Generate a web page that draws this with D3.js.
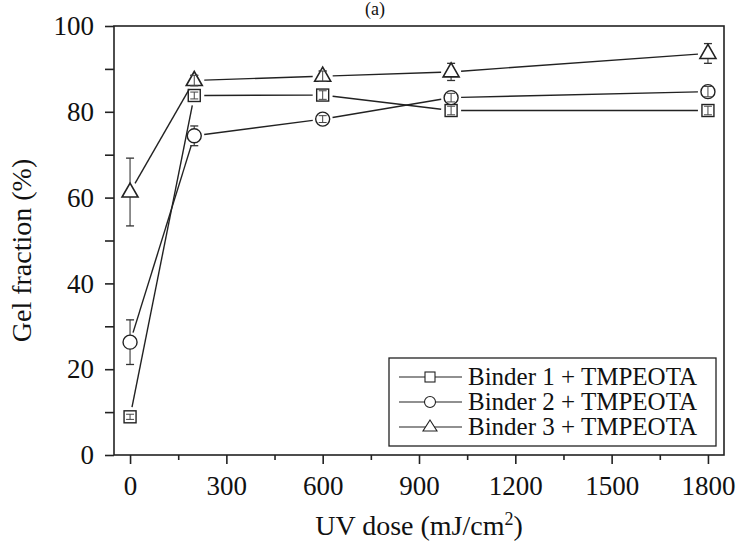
<!DOCTYPE html>
<html>
<head>
<meta charset="utf-8">
<script src="https://cdn.jsdelivr.net/npm/d3@7"></script>
<style>
  body { margin: 0; background: #fff; }
  svg { display: block; }
  svg text { font-family: "Liberation Serif", "Times New Roman", serif; }
</style>
</head>
<body>
<script>
var width = 739;
var height = 548;

// data
var doses = [0, 200, 600, 1000, 1800];
var seriesNames = ["Binder 1 + TMPEOTA", "Binder 2 + TMPEOTA", "Binder 3 + TMPEOTA"];
var binder1 = [8.9, 83.8, 83.9, 80.3, 80.3];
var binder1Err = [0.6, 0.8, 1.0, 1.0, 1.0];
var binder2 = [26.3, 74.4, 78.3, 83.3, 84.7];
var binder2Err = [5.2, 2.3, 0.8, 1.0, 1.2];
var binder3 = [61.3, 87.3, 88.3, 89.3, 93.6];
var binder3Err = [7.9, 1.2, 1.2, 2.0, 2.3];
var symbols = ["square", "circle", "triangle"];

var xTicks = [0, 300, 600, 900, 1200, 1500, 1800];
var xMinor = [150, 450, 750, 1050, 1350, 1650];
var yTicks = [0, 20, 40, 60, 80, 100];
var yMinor = [10, 30, 50, 70, 90];

var series = [
  { name: seriesNames[0], values: binder1, err: binder1Err, sym: symbols[0] },
  { name: seriesNames[1], values: binder2, err: binder2Err, sym: symbols[1] },
  { name: seriesNames[2], values: binder3, err: binder3Err, sym: symbols[2] }
];

var plotLeft = 114, plotRight = 724, plotTop = 26, plotBottom = 455;
var serif = "'Liberation Serif', 'Times New Roman', serif";

var svg = d3.select("body")
  .append("svg")
  .attr("width", width)
  .attr("height", height);

var x = d3.scaleLinear().domain([-50, 1850]).range([plotLeft, plotRight]);
var y = d3.scaleLinear().domain([0, 100]).range([plotBottom, plotTop]);

// title
svg.append("text")
  .attr("x", 375).attr("y", 15)
  .attr("text-anchor", "middle")
  .style("font-family", serif)
  .attr("font-size", 18)
  .attr("fill", "#111")
  .text("(a)");

// frame
svg.append("rect")
  .attr("x", plotLeft).attr("y", plotTop)
  .attr("width", plotRight - plotLeft).attr("height", plotBottom - plotTop)
  .attr("fill", "none").attr("stroke", "#222").attr("stroke-width", 1.6);

// axes
svg.append("g")
  .attr("transform", "translate(0," + plotBottom + ")")
  .call(d3.axisBottom(x).tickValues(xTicks).tickSize(9).tickPadding(12).tickFormat(d3.format("d")));
svg.append("g")
  .attr("transform", "translate(0," + plotBottom + ")")
  .call(d3.axisBottom(x).tickValues(xMinor).tickSize(5).tickFormat(""));
svg.append("g")
  .attr("transform", "translate(" + plotLeft + ",0)")
  .call(d3.axisLeft(y).tickValues(yTicks).tickSize(9).tickPadding(11).tickFormat(d3.format("d")));
svg.append("g")
  .attr("transform", "translate(" + plotLeft + ",0)")
  .call(d3.axisLeft(y).tickValues(yMinor).tickSize(9).tickFormat(""));

svg.selectAll(".domain").remove();
svg.selectAll(".tick line").attr("stroke", "#222").attr("stroke-width", 1.6);
svg.selectAll(".tick text")
  .style("font-family", serif)
  .style("font-size", "27px")
  .attr("fill", "#111");

// axis titles
svg.append("text")
  .attr("transform", "translate(31," + ((plotTop + plotBottom) / 2 + 10) + ") rotate(-90)")
  .attr("text-anchor", "middle")
  .style("font-family", serif)
  .style("font-size", "28px")
  .attr("fill", "#111")
  .text("Gel fraction (%)");

var xl = svg.append("text")
  .attr("x", (plotLeft + plotRight) / 2)
  .attr("y", 535)
  .attr("text-anchor", "middle")
  .style("font-family", serif)
  .style("font-size", "28px")
  .attr("fill", "#111");
xl.append("tspan").text("UV dose (mJ/cm");
xl.append("tspan").style("font-size", "18px").attr("dy", -10).text("2");
xl.append("tspan").attr("dy", 10).text(")");

var markerR = 7;

function drawMarker(g, sym, cx, cy) {
  if (sym == "square") {
    g.append("rect")
      .attr("x", cx - 6).attr("y", cy - 6)
      .attr("width", 12).attr("height", 12)
      .attr("fill", "white").attr("stroke", "#222").attr("stroke-width", 1.4);
  } else if (sym == "circle") {
    g.append("circle")
      .attr("cx", cx).attr("cy", cy).attr("r", 7)
      .attr("fill", "white").attr("stroke", "#222").attr("stroke-width", 1.4);
  } else {
    g.append("path")
      .attr("d", "M" + cx + "," + (cy - 9) + "L" + (cx + 8) + "," + (cy + 5) + "L" + (cx - 8) + "," + (cy + 5) + "Z")
      .attr("fill", "white").attr("stroke", "#222").attr("stroke-width", 1.6);
  }
}

var plot = svg.append("g");

series.forEach(function (s) {
  var g = plot.append("g");
  // connecting lines, with a gap near each symbol
  for (var i = 0; i < doses.length - 1; i++) {
    var x1 = x(doses[i]), y1 = y(s.values[i]);
    var x2 = x(doses[i + 1]), y2 = y(s.values[i + 1]);
    var len = Math.sqrt((x2 - x1) * (x2 - x1) + (y2 - y1) * (y2 - y1));
    var gap = markerR + 3;
    var ux = (x2 - x1) / len, uy = (y2 - y1) / len;
    g.append("line")
      .attr("x1", x1 + ux * gap).attr("y1", y1 + uy * gap)
      .attr("x2", x2 - ux * gap).attr("y2", y2 - uy * gap)
      .attr("stroke", "#222").attr("stroke-width", 1.4);
  }
  // error bars
  doses.forEach(function (d, i) {
    var cx = x(d);
    var top = y(s.values[i] + s.err[i]), bot = y(s.values[i] - s.err[i]);
    g.append("line").attr("x1", cx).attr("x2", cx).attr("y1", top).attr("y2", bot)
      .attr("stroke", "#555").attr("stroke-width", 1.3);
    g.append("line").attr("x1", cx - 4).attr("x2", cx + 4).attr("y1", top).attr("y2", top)
      .attr("stroke", "#333").attr("stroke-width", 1.3);
    g.append("line").attr("x1", cx - 4).attr("x2", cx + 4).attr("y1", bot).attr("y2", bot)
      .attr("stroke", "#333").attr("stroke-width", 1.3);
  });
  // markers
  doses.forEach(function (d, i) {
    drawMarker(g, s.sym, x(d), y(s.values[i]));
  });
  // small error bars stay visible over the symbol
  doses.forEach(function (d, i) {
    var cx = x(d);
    var top = y(s.values[i] + s.err[i]), bot = y(s.values[i] - s.err[i]);
    if (s.err[i] < 2) {
      g.append("line").attr("x1", cx).attr("x2", cx).attr("y1", top).attr("y2", bot)
        .attr("stroke", "#444").attr("stroke-width", 1);
      g.append("line").attr("x1", cx - 4).attr("x2", cx + 4).attr("y1", top).attr("y2", top)
        .attr("stroke", "#444").attr("stroke-width", 1);
      g.append("line").attr("x1", cx - 4).attr("x2", cx + 4).attr("y1", bot).attr("y2", bot)
        .attr("stroke", "#444").attr("stroke-width", 1);
    }
  });
});

// legend
var legX = 389, legY = 358, legW = 327, legH = 88, rowH = 25;
var legend = svg.append("g");
legend.append("rect")
  .attr("x", legX).attr("y", legY).attr("width", legW).attr("height", legH)
  .attr("fill", "white").attr("stroke", "#222").attr("stroke-width", 1.3);

series.forEach(function (s, i) {
  var cy = legY + 19 + i * rowH;
  legend.append("line")
    .attr("x1", legX + 10).attr("x2", legX + 73).attr("y1", cy).attr("y2", cy)
    .attr("stroke", "#222").attr("stroke-width", 1.2);
  var mg = legend.append("g");
  if (s.sym == "square") {
    mg.append("rect").attr("x", legX + 41 - 5).attr("y", cy - 5).attr("width", 10).attr("height", 10)
      .attr("fill", "white").attr("stroke", "#222").attr("stroke-width", 1.1);
  } else if (s.sym == "circle") {
    mg.append("circle").attr("cx", legX + 41).attr("cy", cy).attr("r", 5.5)
      .attr("fill", "white").attr("stroke", "#222").attr("stroke-width", 1.1);
  } else {
    mg.append("path")
      .attr("d", "M" + (legX + 41) + "," + (cy - 7) + "L" + (legX + 48) + "," + (cy + 4) + "L" + (legX + 34) + "," + (cy + 4) + "Z")
      .attr("fill", "white").attr("stroke", "#222").attr("stroke-width", 1.1);
  }
  legend.append("text")
    .attr("x", legX + 79).attr("y", cy + 8)
    .style("font-family", serif)
    .style("font-size", "25px")
    .attr("fill", "#111")
    .text(s.name);
});
</script>
</body>
</html>
